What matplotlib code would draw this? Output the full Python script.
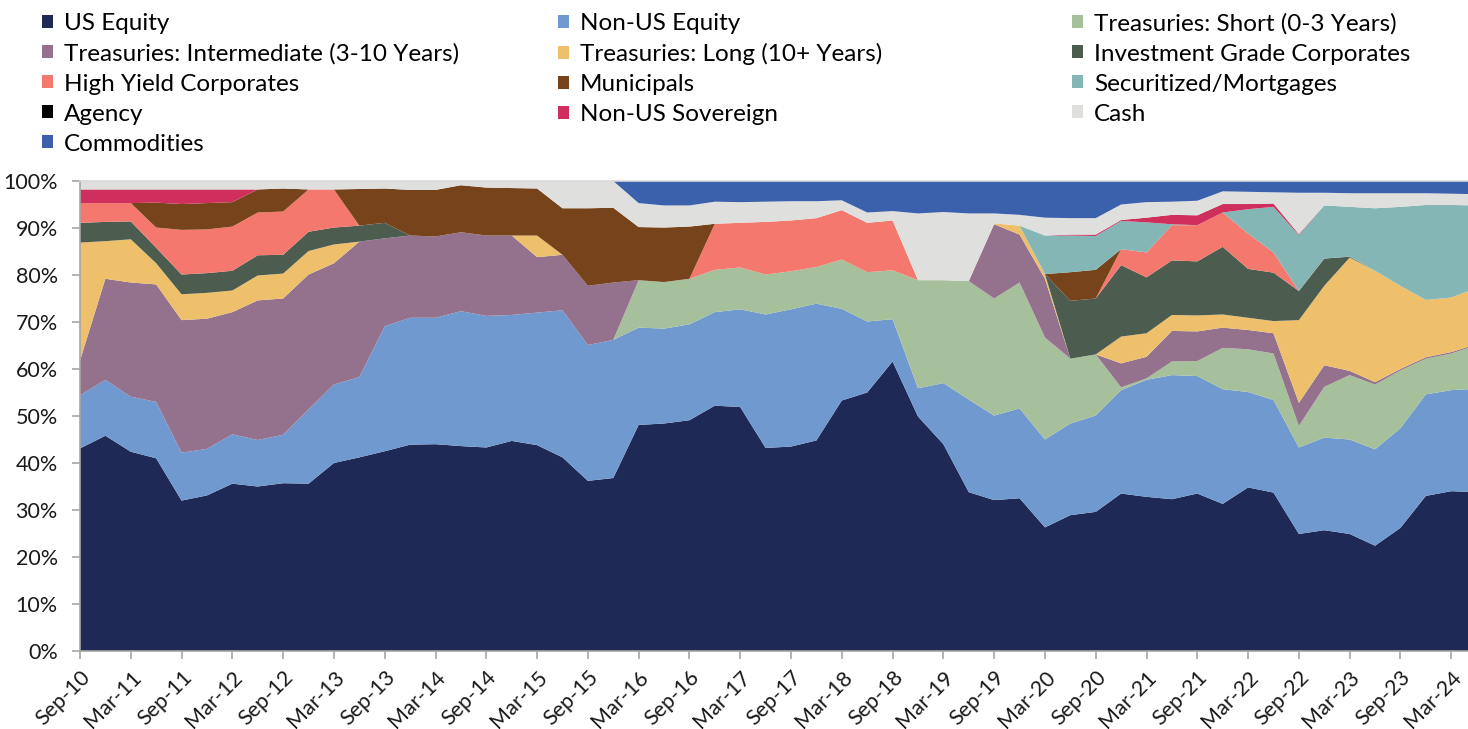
import matplotlib
matplotlib.use("Agg")
import matplotlib.pyplot as plt
from matplotlib.patches import Patch
import numpy as np

plt.rcParams["font.family"] = ["Lato", "DejaVu Sans"]

# quarterly points, Sep-10 .. Jun-24 (56 quarters)
tick_labels = ["Sep-10", "Mar-11", "Sep-11", "Mar-12", "Sep-12", "Mar-13", "Sep-13",
               "Mar-14", "Sep-14", "Mar-15", "Sep-15", "Mar-16", "Sep-16", "Mar-17",
               "Sep-17", "Mar-18", "Sep-18", "Mar-19", "Sep-19", "Mar-20", "Sep-20",
               "Mar-21", "Sep-21", "Mar-22", "Sep-22", "Mar-23", "Sep-23", "Mar-24"]

us_equity = [43.1, 45.8, 42.4, 41.0, 32.0, 33.1, 35.6, 35.0, 35.7, 35.6, 40.0, 41.2, 42.5, 43.9,
             44.0, 43.6, 43.3, 44.7, 43.8, 41.2, 36.2, 36.8, 48.1, 48.4, 49.1, 52.2, 51.9, 43.2,
             43.5, 44.8, 53.3, 55.0, 61.6, 49.9, 44.0, 33.8, 32.1, 32.5, 26.3, 28.9, 29.6, 33.5,
             32.8, 32.3, 33.5, 31.3, 34.8, 33.7, 24.9, 25.7, 24.9, 22.4, 26.2, 33.0, 34.0, 33.8]
non_us_equity = [11.3, 11.9, 11.7, 12.0, 10.2, 9.9, 10.5, 9.9, 10.3, 15.8, 16.7, 17.1, 26.6, 27.0,
                 26.9, 28.7, 28.0, 26.8, 28.2, 31.3, 28.9, 29.4, 20.7, 20.2, 20.4, 19.9, 20.8, 28.4,
                 29.2, 29.1, 19.5, 15.1, 9.0, 6.0, 13.0, 19.7, 18.0, 19.1, 18.7, 19.5, 20.5, 22.0,
                 24.9, 26.4, 25.0, 24.4, 20.3, 19.7, 18.4, 19.7, 20.1, 20.5, 21.2, 21.6, 21.5, 22.0]
tsy_short = [0, 0, 0, 0, 0, 0, 0, 0, 0, 0, 0, 0, 0, 0,
             0, 0, 0, 0, 0, 0, 0, 0, 10.1, 9.9, 9.7, 9.0, 8.9, 8.5,
             8.1, 7.8, 10.5, 10.5, 10.4, 23.0, 21.9, 25.2, 24.9, 26.8, 21.7, 13.8, 13.0, 0.6,
             0.3, 2.9, 3.2, 8.8, 9.1, 9.9, 4.6, 10.8, 13.7, 13.8, 12.3, 7.6, 7.8, 9.3]
tsy_inter = [7.4, 21.5, 24.3, 25.0, 28.2, 27.7, 26.0, 29.7, 29.0, 28.7, 25.8, 28.8, 18.7, 17.5,
             17.3, 16.8, 17.1, 16.9, 11.8, 11.8, 12.6, 12.2, 0, 0, 0, 0, 0, 0,
             0, 0, 0, 0, 0, 0, 0, 0, 15.8, 10.2, 12.5, 0, 0, 5.1,
             4.6, 6.5, 6.3, 4.3, 4.1, 4.3, 4.9, 4.6, 0.9, 0.5, 0.3, 0.3, 0.3, 0.2]
tsy_long = [25.1, 8.0, 9.2, 4.5, 5.5, 5.5, 4.6, 5.3, 5.3, 5.0, 4.0, 0, 0, 0,
            0, 0, 0, 0, 4.6, 0, 0, 0, 0, 0, 0, 0, 0, 0,
            0, 0, 0, 0, 0, 0, 0, 0, 0.2, 1.9, 1.0, 0, 0, 5.7,
            5.0, 3.4, 3.4, 2.8, 2.6, 2.6, 17.6, 16.9, 24.1, 23.7, 17.7, 12.2, 11.6, 12.0]
ig_corp = [4.2, 4.1, 3.8, 3.3, 4.2, 4.2, 4.2, 4.3, 4.0, 4.1, 3.6, 3.4, 3.3, 0,
           0, 0, 0, 0, 0, 0, 0, 0, 0, 0, 0, 0, 0, 0,
           0, 0, 0, 0, 0, 0, 0, 0, 0, 0, 0, 12.3, 11.9, 15.2,
           11.9, 11.6, 11.5, 14.4, 10.4, 10.3, 6.2, 5.8, 0.2, 0, 0, 0, 0, 0]
hy_corp = [4.2, 4.0, 3.9, 4.3, 9.5, 9.3, 9.4, 9.1, 9.2, 9.0, 8.1, 0, 0, 0,
           0, 0, 0, 0, 0, 0, 0, 0, 0, 0, 0, 9.8, 9.5, 11.2,
           10.8, 10.4, 10.5, 10.5, 10.6, 0, 0, 0, 0, 0, 0, 0, 0, 3.4,
           5.3, 7.5, 7.7, 7.3, 7.5, 4.3, 0, 0, 0, 0, 0, 0, 0, 0]
municipals = [0, 0, 0, 5.3, 5.5, 5.6, 5.2, 4.9, 4.9, 0, 0, 7.8, 7.3, 9.7,
              9.9, 10.0, 10.2, 10.1, 10.0, 9.9, 16.5, 15.9, 11.3, 11.6, 11.1, 0, 0, 0,
              0, 0, 0, 0, 0, 0, 0, 0, 0, 0, 0, 6.1, 6.1, 0,
              0, 0, 0, 0, 0, 0, 0, 0, 0, 0, 0, 0, 0, 0]
securitized = [0, 0, 0, 0, 0, 0, 0, 0, 0, 0, 0, 0, 0, 0,
               0, 0, 0, 0, 0, 0, 0, 0, 0, 0, 0, 0, 0, 0,
               0, 0, 0, 0, 0, 0, 0, 0, 0, 0, 8.2, 7.8, 7.2, 6.0,
               6.4, 0.2, 0, 0, 5.2, 9.7, 11.9, 11.3, 10.6, 13.3, 16.8, 20.2, 19.7, 17.5]
agency = [0] * 56
non_us_sov = [2.9, 2.9, 2.9, 2.8, 3.1, 2.9, 2.7, 0, 0, 0, 0, 0, 0, 0,
              0, 0, 0, 0, 0, 0, 0, 0, 0, 0, 0, 0, 0, 0,
              0, 0, 0, 0, 0, 0, 0, 0, 0, 0, 0, 0.2, 0.3, 0.2,
              1.0, 2.0, 2.1, 1.8, 1.1, 0.7, 0.2, 0, 0, 0, 0, 0, 0, 0]
cash = [1.8, 1.8, 1.8, 1.8, 1.8, 1.8, 1.8, 1.8, 1.8, 1.8, 1.8, 1.7, 1.6, 1.9,
        1.9, 0.9, 1.4, 1.5, 1.6, 5.8, 5.8, 5.7, 5.1, 4.7, 4.5, 4.7, 4.4, 4.3,
        4.1, 3.6, 2.1, 2.2, 2.0, 14.2, 14.5, 14.4, 2.1, 2.3, 3.8, 3.5, 3.5, 3.3,
        3.3, 2.8, 3.1, 2.7, 2.6, 2.4, 8.8, 2.7, 2.9, 3.2, 2.9, 2.5, 2.4, 2.4]
commodities = [0, 0, 0, 0, 0, 0, 0, 0, 0, 0, 0, 0, 0, 0,
               0, 0, 0, 0, 0, 0, 0, 0, 4.7, 5.2, 5.2, 4.4, 4.5, 4.4,
               4.3, 4.3, 4.1, 6.7, 6.4, 6.9, 6.6, 6.9, 6.9, 7.2, 7.8, 7.9, 7.9, 5.0,
               4.5, 4.4, 4.2, 2.2, 2.3, 2.4, 2.5, 2.5, 2.6, 2.6, 2.6, 2.6, 2.7, 2.8]

names = ["US Equity", "Non-US Equity", "Treasuries: Short (0-3 Years)",
         "Treasuries: Intermediate (3-10 Years)", "Treasuries: Long (10+ Years)",
         "Investment Grade Corporates", "High Yield Corporates", "Municipals",
         "Securitized/Mortgages", "Agency", "Non-US Sovereign", "Cash", "Commodities"]
series = [us_equity, non_us_equity, tsy_short, tsy_inter, tsy_long, ig_corp, hy_corp,
          municipals, securitized, agency, non_us_sov, cash, commodities]
colors = ["#1f2956", "#7099cf", "#a6c09b", "#94728e", "#eec06c", "#4c5d4f", "#f4786d",
          "#76431a", "#84b6b5", "#000000", "#ce2f5c", "#dfdfdd", "#3b60ac"]

fig = plt.figure(figsize=(14.68, 7.29), dpi=100)
ax = fig.add_axes([80 / 1468, 78 / 729, 1388 / 1468, 470 / 729])

x = np.arange(len(us_equity))
ax.stackplot(x, *[np.array(s) / 100 for s in series], colors=colors, lw=0)

ax.set_xlim(0, 54.66)
ax.set_ylim(0, 1)
ax.set_xticks(np.arange(0, 2 * len(tick_labels), 2))
ax.set_xticklabels(tick_labels, rotation=45, ha="right", rotation_mode="anchor")
ax.set_yticks(np.linspace(0, 1, 11))
ax.set_yticklabels([f"{v}%" for v in range(0, 101, 10)])
ax.tick_params(axis="both", labelsize=15.5, colors="#a6a6a6", labelcolor="#1a1a1a",
               length=6, width=1.2, direction="out")
ax.tick_params(axis="y", pad=10)
ax.tick_params(axis="x", pad=5.5)
ax.spines["right"].set_visible(False)
for s in ("left", "bottom"):
    ax.spines[s].set_color("#a6a6a6")
    ax.spines[s].set_linewidth(1.2)
ax.spines["top"].set_color("#d9d9d9")
ax.spines["top"].set_linewidth(1.2)

# legend: three columns, filled row by row
handles = [Patch(facecolor=c, edgecolor="none") for c in colors]
col_x = [25 / 1468, 541 / 1468, 1055 / 1468]
for k in range(3):
    idx = list(range(k, len(names), 3))
    fig.legend([handles[i] for i in idx], [names[i] for i in idx],
               loc="upper left", bbox_to_anchor=(col_x[k], 1.0 + 4 / 729),
               frameon=False, fontsize=17.5, handlelength=0.46, handleheight=0.46,
               handletextpad=0.45, labelspacing=0.37, borderaxespad=0.3)

fig.savefig("out.png", dpi=100)
